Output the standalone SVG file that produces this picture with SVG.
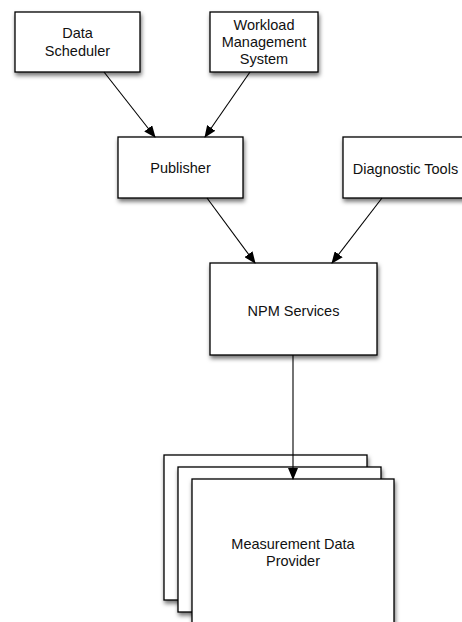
<svg xmlns="http://www.w3.org/2000/svg" width="462" height="622" viewBox="0 0 462 622">
<defs>
<filter id="sh" x="-20%" y="-20%" width="150%" height="150%">
<feDropShadow dx="1" dy="3" stdDeviation="2" flood-color="#000" flood-opacity="0.55"/>
</filter>
<marker id="ah" markerWidth="12" markerHeight="10" refX="11" refY="5" orient="auto" markerUnits="userSpaceOnUse">
<path d="M0,0 L12,5 L0,10 Z" fill="#000"/>
</marker>
<style>
.box{fill:#fff;stroke:#000;stroke-width:1.3;filter:url(#sh)}
.t{font-family:"Liberation Sans",Arial,sans-serif;font-size:14.5px;fill:#111;text-anchor:middle}
.c{stroke:#000;stroke-width:1.1;fill:none;marker-end:url(#ah)}
</style>
</defs>
<rect width="462" height="622" fill="#fff"/>
<g id="data-scheduler">
<rect class="box" x="15" y="12" width="125" height="60"/>
<text class="t" x="77.5" y="38">Data</text>
<text class="t" x="77.5" y="56">Scheduler</text>
</g>
<g id="workload-management-system">
<rect class="box" x="210" y="12" width="108" height="60"/>
<text class="t" x="264" y="30">Workload</text>
<text class="t" x="264" y="47">Management</text>
<text class="t" x="264" y="64">System</text>
</g>
<g id="publisher">
<rect class="box" x="118" y="137" width="125" height="61"/>
<text class="t" x="180.5" y="173">Publisher</text>
</g>
<g id="diagnostic-tools">
<rect class="box" x="343" y="137" width="125" height="61"/>
<text class="t" x="405.5" y="174">Diagnostic Tools</text>
</g>
<g id="npm-services">
<rect class="box" x="210" y="263" width="167" height="92"/>
<text class="t" x="293.5" y="316">NPM Services</text>
</g>
<g id="measurement-data-provider">
<rect class="box" x="164" y="455" width="203" height="145"/>
<rect class="box" x="178" y="467" width="203" height="145"/>
<rect class="box" x="192" y="479" width="202" height="150"/>
<text class="t" x="293" y="549">Measurement Data</text>
<text class="t" x="293" y="566">Provider</text>
</g>
<g id="connectors">
<line class="c" x1="104" y1="72" x2="155" y2="137"/>
<line class="c" x1="250" y1="72" x2="205" y2="137"/>
<line class="c" x1="207" y1="198" x2="255" y2="263"/>
<line class="c" x1="382" y1="198" x2="332" y2="263"/>
<line class="c" x1="293" y1="355" x2="293" y2="479"/>
</g>
</svg>
